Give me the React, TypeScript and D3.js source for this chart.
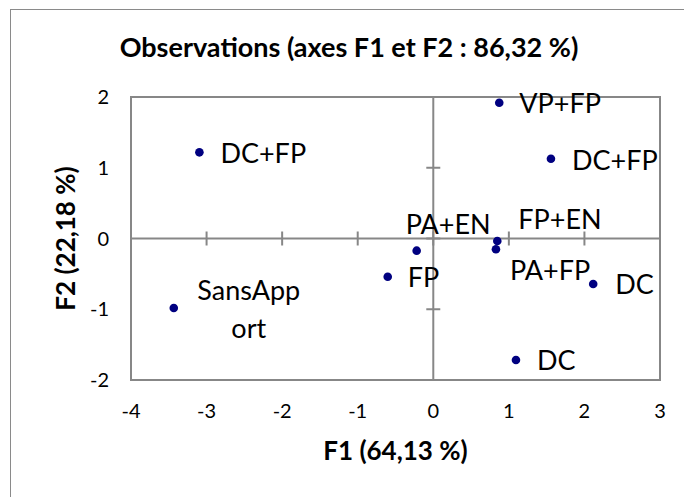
import React from 'react';
import * as d3 from 'd3';

// ---- data ----
const observations = ['DC+FP', 'VP+FP', 'DC+FP', 'PA+EN', 'FP+EN', 'PA+FP', 'FP', 'SansApport', 'DC', 'DC'];
const f1Values = [-3.095, 0.873, 1.557, -0.22, 0.847, 0.829, -0.603, -3.434, 2.116, 1.094];
const f2Values = [1.218, 1.919, 1.128, -0.172, -0.035, -0.153, -0.54, -0.982, -0.643, -1.717];
const xTicks = [-4, -3, -2, -1, 0, 1, 2, 3];
const yTicks = [-2, -1, 0, 1, 2];
const chartTitle = 'Observations (axes F1 et F2 : 86,32 %)';
const xAxisTitle = 'F1 (64,13 %)';
const yAxisTitle = 'F2 (22,18 %)';

// ---- label placement (pixel offsets from each point, Excel-like manual placement) ----
const labelPlacement: { dx: number; dy: number; anchor: string; wrap?: number; lineGap?: number }[] = [
  { dx: 21, dy: 11, anchor: 'start' },
  { dx: 20, dy: 10, anchor: 'start' },
  { dx: 21, dy: 11, anchor: 'start' },
  { dx: -11, dy: -17, anchor: 'start' },
  { dx: 21, dy: -12, anchor: 'start' },
  { dx: 14, dy: 31, anchor: 'start' },
  { dx: 20, dy: 10, anchor: 'start' },
  { dx: 75, dy: -8, anchor: 'middle', wrap: 7, lineGap: 38 },
  { dx: 22, dy: 10, anchor: 'start' },
  { dx: 21, dy: 10, anchor: 'start' },
];

const W = 684;
const H = 497;
const plot = { left: 131, right: 660, top: 97, bottom: 380 };
const FONT = 'Lato, "Open Sans", sans-serif';
const AXIS_COLOR = '#878787';
const POINT_COLOR = '#000080';

export default function App() {
  const x = d3.scaleLinear().domain([-4, 3]).range([plot.left, plot.right]);
  const y = d3.scaleLinear().domain([-2, 2]).range([plot.bottom, plot.top]);
  const x0 = x(0);
  const y0 = y(0);
  const tick = 7;

  return (
    <svg
      width={W}
      height={H}
      style={{ position: 'fixed', left: 0, top: 0, display: 'block', background: '#fff' }}
      fontFamily={FONT}
    >
      <rect x={0} y={0} width={W} height={H} fill="#fff" />
      {/* outer chart border (extends beyond the picture on right/bottom) */}
      <rect x={10.5} y={9.5} width={W + 50} height={H + 50} fill="none" stroke="#8a8a8a" strokeWidth={1} />

      {/* title */}
      <text x={349} y={57} textAnchor="middle" fontWeight="bold" fontSize={27} fill="#000">
        {chartTitle}
      </text>

      {/* plot area border */}
      <rect
        x={plot.left}
        y={plot.top}
        width={plot.right - plot.left}
        height={plot.bottom - plot.top}
        fill="none"
        stroke={AXIS_COLOR}
        strokeWidth={2}
      />

      {/* axes crossing at zero */}
      <line x1={plot.left} x2={plot.right} y1={y0} y2={y0} stroke={AXIS_COLOR} strokeWidth={2} />
      <line x1={x0} x2={x0} y1={plot.top} y2={plot.bottom} stroke={AXIS_COLOR} strokeWidth={2} />

      {/* cross tick marks */}
      {xTicks.map((t) => (
        <line key={'xt' + t} x1={x(t)} x2={x(t)} y1={y0 - tick} y2={y0 + tick} stroke={AXIS_COLOR} strokeWidth={2} />
      ))}
      {yTicks.map((t) => (
        <line key={'yt' + t} x1={x0 - tick} x2={x0 + tick} y1={y(t)} y2={y(t)} stroke={AXIS_COLOR} strokeWidth={2} />
      ))}

      {/* tick labels at plot edges */}
      {xTicks.map((t) => (
        <text key={'xl' + t} x={x(t)} y={plot.bottom + 38} textAnchor="middle" fontSize={20} fill="#000">
          {t}
        </text>
      ))}
      {yTicks.map((t) => (
        <text key={'yl' + t} x={109} y={y(t) + 7} textAnchor="end" fontSize={20} fill="#000">
          {t}
        </text>
      ))}

      {/* axis titles */}
      <text x={(plot.left + plot.right) / 2} y={460} textAnchor="middle" fontWeight="bold" fontSize={26} fill="#000">
        {xAxisTitle}
      </text>
      <text
        transform={`translate(75, ${(plot.top + plot.bottom) / 2}) rotate(-90)`}
        textAnchor="middle"
        fontWeight="bold"
        fontSize={26}
        fill="#000"
      >
        {yAxisTitle}
      </text>

      {/* points */}
      {observations.map((name, i) => (
        <circle key={'p' + i} cx={x(f1Values[i])} cy={y(f2Values[i])} r={4.3} fill={POINT_COLOR} />
      ))}

      {/* labels */}
      {observations.map((name, i) => {
        const pl = labelPlacement[i];
        const px = x(f1Values[i]) + pl.dx;
        const py = y(f2Values[i]) + pl.dy;
        const lines = pl.wrap ? [name.slice(0, pl.wrap), name.slice(pl.wrap)] : [name];
        return (
          <text key={'l' + i} x={px} y={py} textAnchor={pl.anchor} fontSize={27} fill="#000">
            {lines.map((ln, j) => (
              <tspan key={j} x={px} y={py + j * (pl.lineGap || 0)}>
                {ln}
              </tspan>
            ))}
          </text>
        );
      })}
    </svg>
  );
}
